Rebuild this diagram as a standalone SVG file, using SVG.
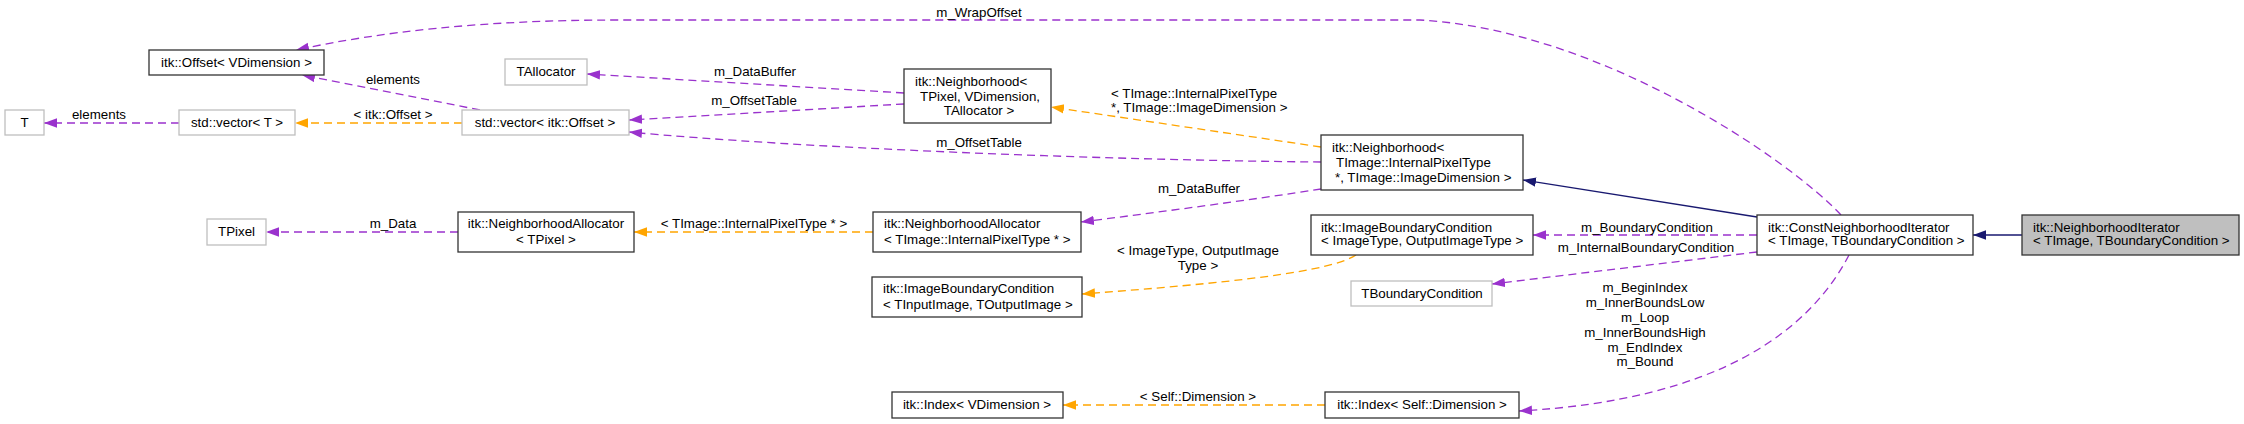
<svg xmlns="http://www.w3.org/2000/svg" width="2244" height="424" viewBox="0 0 2244 424">
<style>
text{font-family:"Liberation Sans",Arial,sans-serif;font-size:13.33px;fill:#000}
.m{text-anchor:middle}
.s{text-anchor:start}
.nb{fill:#fff;stroke:#333;stroke-width:1.3}
.ng{fill:#fff;stroke:#bfbfbf;stroke-width:1.3}
.nm{fill:#bfbfbf;stroke:#333;stroke-width:1.3}
.p{fill:none;stroke:#9a32cd;stroke-width:1.3;stroke-dasharray:8,5;marker-end:url(#ap)}
.o{fill:none;stroke:#ffa500;stroke-width:1.3;stroke-dasharray:8,5;marker-end:url(#ao)}
.n{fill:none;stroke:#191970;stroke-width:1.3;marker-end:url(#an)}
</style>
<defs>
<marker id="ap" markerUnits="userSpaceOnUse" markerWidth="14" markerHeight="11" refX="13" refY="5" orient="auto"><path d="M0,0.3 L13,5 L0,9.7 z" fill="#9a32cd"/></marker>
<marker id="ao" markerUnits="userSpaceOnUse" markerWidth="14" markerHeight="11" refX="13" refY="5" orient="auto"><path d="M0,0.3 L13,5 L0,9.7 z" fill="#ffa500"/></marker>
<marker id="an" markerUnits="userSpaceOnUse" markerWidth="14" markerHeight="11" refX="13" refY="5" orient="auto"><path d="M0,0.3 L13,5 L0,9.7 z" fill="#191970"/></marker>
</defs>
<rect width="2244" height="424" fill="#fff"/>
<g id="edges">
<path class="n" d="M2022,235 L1973,235"/>
<path class="n" d="M1757,217 L1523,180"/>
<path class="p" d="M1757,235 L1533,235"/>
<text class="m" x="1647" y="232">m_BoundaryCondition</text>
<path class="p" d="M1757,252 L1492,284"/>
<text class="m" x="1646" y="252">m_InternalBoundaryCondition</text>
<path class="p" d="M1849,255 C1810,330 1720,400 1519,411"/>
<text class="m" x="1645" y="292">m_BeginIndex</text>
<text class="m" x="1645" y="307">m_InnerBoundsLow</text>
<text class="m" x="1645" y="322">m_Loop</text>
<text class="m" x="1645" y="337">m_InnerBoundsHigh</text>
<text class="m" x="1645" y="352">m_EndIndex</text>
<text class="m" x="1645" y="366">m_Bound</text>
<path class="p" d="M1841,215 C1790,160 1600,30 1420,20 L620,20 C480,20 380,32 296,50"/>
<text class="m" x="979" y="17">m_WrapOffset</text>
<path class="p" d="M1321,162 C1100,160 800,148 629,132"/>
<text class="m" x="979" y="147">m_OffsetTable</text>
<path class="p" d="M904,104 L629,120"/>
<text class="m" x="754" y="105">m_OffsetTable</text>
<path class="p" d="M904,93 L587,74"/>
<text class="m" x="755" y="76">m_DataBuffer</text>
<path class="o" d="M1321,147 L1051,107"/>
<text class="s" x="1111" y="98">&lt; TImage::InternalPixelType</text>
<text class="s" x="1111" y="112">*, TImage::ImageDimension &gt;</text>
<path class="p" d="M1321,189 C1250,200 1160,212 1081,222"/>
<text class="m" x="1199" y="193">m_DataBuffer</text>
<path class="o" d="M873,232 L634,232"/>
<text class="m" x="754" y="228">&lt; TImage::InternalPixelType * &gt;</text>
<path class="p" d="M458,232 L266,232"/>
<text class="m" x="393" y="228">m_Data</text>
<path class="o" d="M462,123 L295,123"/>
<text class="m" x="393" y="119">&lt; itk::Offset &gt;</text>
<path class="p" d="M179,123 L44,123"/>
<text class="m" x="99" y="119">elements</text>
<path class="p" d="M480,110 L302,75"/>
<text class="m" x="393" y="84">elements</text>
<path class="o" d="M1356,255 C1330,272 1230,283 1082,294"/>
<text class="m" x="1198" y="255">&lt; ImageType, OutputImage</text>
<text class="m" x="1198" y="270">Type &gt;</text>
<path class="o" d="M1325,405 L1063,405"/>
<text class="m" x="1198" y="401">&lt; Self::Dimension &gt;</text>
</g>
<g id="node_NeighborhoodIterator">
<rect class="nm" x="2022" y="215" width="217" height="40"/>
<text class="s" x="2033" y="232">itk::NeighborhoodIterator</text>
<text class="s" x="2033" y="245">&lt; TImage, TBoundaryCondition &gt;</text>
</g>
<g id="node_ConstNeighborhoodIterator">
<rect class="nb" x="1757" y="215" width="216" height="40"/>
<text class="s" x="1768" y="232">itk::ConstNeighborhoodIterator</text>
<text class="s" x="1768" y="245">&lt; TImage, TBoundaryCondition &gt;</text>
</g>
<g id="node_NeighborhoodTImage">
<rect class="nb" x="1321" y="135" width="202" height="55"/>
<text class="s" x="1332" y="152">itk::Neighborhood&lt;</text>
<text class="s" x="1336" y="167">TImage::InternalPixelType</text>
<text class="s" x="1335" y="182">*, TImage::ImageDimension &gt;</text>
</g>
<g id="node_ImageBoundaryConditionImageType">
<rect class="nb" x="1311" y="215" width="222" height="40"/>
<text class="s" x="1321" y="232">itk::ImageBoundaryCondition</text>
<text class="s" x="1321" y="245">&lt; ImageType, OutputImageType &gt;</text>
</g>
<g id="node_TBoundaryCondition">
<rect class="ng" x="1351" y="281" width="141" height="25"/>
<text class="m" x="1422" y="298">TBoundaryCondition</text>
</g>
<g id="node_IndexSelf">
<rect class="nb" x="1325" y="392" width="194" height="26"/>
<text class="m" x="1422" y="409">itk::Index&lt; Self::Dimension &gt;</text>
</g>
<g id="node_IndexVDimension">
<rect class="nb" x="892" y="392" width="171" height="26"/>
<text class="m" x="977" y="409">itk::Index&lt; VDimension &gt;</text>
</g>
<g id="node_NeighborhoodTPixel">
<rect class="nb" x="904" y="69" width="147" height="54"/>
<text class="s" x="915" y="86">itk::Neighborhood&lt;</text>
<text class="s" x="920" y="100.5">TPixel, VDimension,</text>
<text class="m" x="979" y="115">TAllocator &gt;</text>
</g>
<g id="node_TAllocator">
<rect class="ng" x="505" y="59" width="82" height="26"/>
<text class="m" x="546" y="76">TAllocator</text>
</g>
<g id="node_vectorOffset">
<rect class="ng" x="462" y="110" width="167" height="25"/>
<text class="m" x="545" y="127">std::vector&lt; itk::Offset &gt;</text>
</g>
<g id="node_Offset">
<rect class="nb" x="149" y="50" width="175" height="25"/>
<text class="m" x="236.5" y="67">itk::Offset&lt; VDimension &gt;</text>
</g>
<g id="node_vectorT">
<rect class="ng" x="179" y="110" width="116" height="25"/>
<text class="m" x="237" y="127">std::vector&lt; T &gt;</text>
</g>
<g id="node_T">
<rect class="ng" x="5" y="110" width="39" height="25"/>
<text class="m" x="24.5" y="127">T</text>
</g>
<g id="node_NeighborhoodAllocatorTImage">
<rect class="nb" x="873" y="212" width="208" height="40"/>
<text class="s" x="884" y="228">itk::NeighborhoodAllocator</text>
<text class="s" x="884" y="244">&lt; TImage::InternalPixelType * &gt;</text>
</g>
<g id="node_NeighborhoodAllocatorTPixel">
<rect class="nb" x="458" y="212" width="176" height="40"/>
<text class="m" x="546" y="228">itk::NeighborhoodAllocator</text>
<text class="m" x="546" y="244">&lt; TPixel &gt;</text>
</g>
<g id="node_TPixel">
<rect class="ng" x="207" y="219" width="59" height="26"/>
<text class="m" x="236.5" y="236">TPixel</text>
</g>
<g id="node_ImageBoundaryConditionTInput">
<rect class="nb" x="872" y="277" width="210" height="40"/>
<text class="s" x="883" y="293">itk::ImageBoundaryCondition</text>
<text class="s" x="883" y="309">&lt; TInputImage, TOutputImage &gt;</text>
</g>
</svg>
